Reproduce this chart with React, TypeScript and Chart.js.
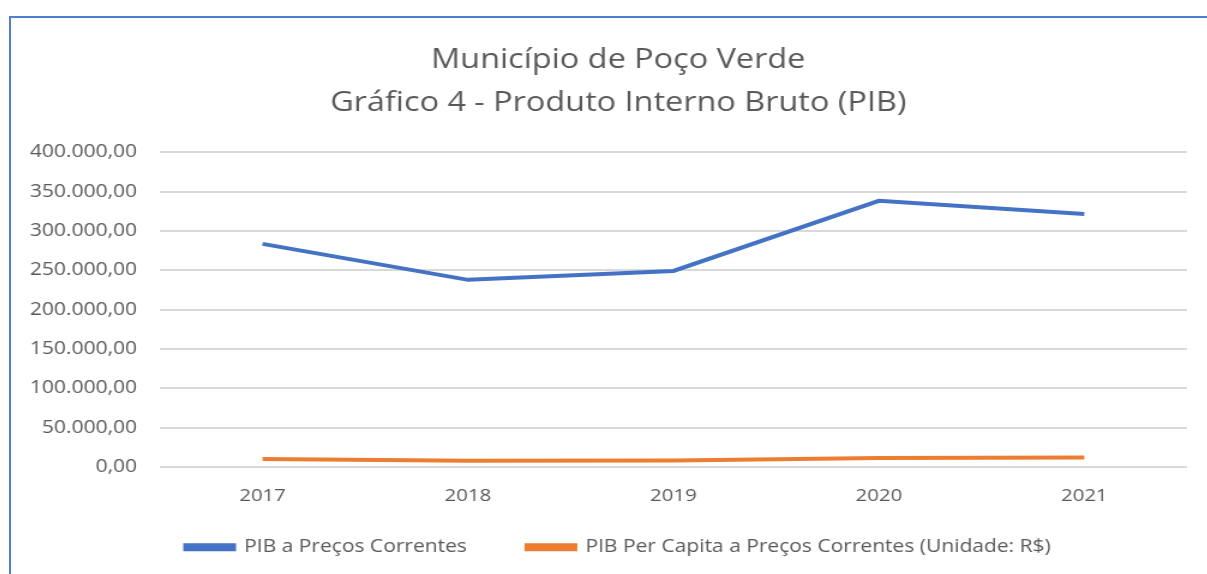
import React, { useEffect, useRef } from "react";
import { Chart, registerables } from "chart.js";

Chart.register(...registerables);

const categories = ["2017", "2018", "2019", "2020", "2021"];
const pibCorrentes = [283700, 238000, 249300, 338500, 321800];
const pibPerCapita = [10300, 8000, 8300, 11600, 12300];
const titleLines = ["Município de Poço Verde", "Gráfico 4 - Produto Interno Bruto (PIB)"];
const seriesNames = ["PIB a Preços Correntes", "PIB Per Capita a Preços Correntes (Unidade: R$)"];

const fmt = (v: number) =>
  v.toLocaleString("pt-BR", { minimumFractionDigits: 2, maximumFractionDigits: 2 });

const STRETCH = 1.2;
const CW = 997;
const CH = 585;

const shiftPlugin = {
  id: "shiftBoxes",
  afterLayout(chart: any) {
    const t = chart.titleBlock;
    if (t) {
      t.left += 16;
      t.right += 16;
    }
    const l = chart.legend;
    if (l) {
      l.left += 16;
      l.right += 16;
      l.top -= 37;
      l.bottom -= 37;
    }
  },
};

export default function App() {
  const ref = useRef<HTMLCanvasElement | null>(null);
  useEffect(() => {
    if (!ref.current) return;
    const font = "'Open Sans', sans-serif";
    const chart = new Chart(ref.current, {
      type: "line",
      data: {
        labels: categories,
        datasets: [
          {
            label: seriesNames[0],
            data: pibCorrentes,
            borderColor: "#4472C4",
            backgroundColor: "#4472C4",
            borderWidth: 4,
            pointRadius: 0,
            tension: 0,
          },
          {
            label: seriesNames[1],
            data: pibPerCapita,
            borderColor: "#ED7D31",
            backgroundColor: "#ED7D31",
            borderWidth: 4,
            pointRadius: 0,
            tension: 0,
          },
        ],
      },
      plugins: [shiftPlugin],
      options: {
        animation: false,
        responsive: false,
        maintainAspectRatio: false,
        layout: { padding: { left: 0, right: 17, top: 21, bottom: 0 } },
        plugins: {
          tooltip: { enabled: false },
          title: {
            display: true,
            text: titleLines,
            color: "#595959",
            font: { family: font, size: 27, weight: "normal", lineHeight: 1.6 },
            padding: { top: 0, bottom: 27 },
          },
          legend: {
            position: "bottom",
            labels: {
              color: "#595959",
              font: { family: font, size: 17.5 },
              boxWidth: 40,
              boxHeight: 4,
              padding: 50,
            },
          },
        },
        scales: {
          x: {
            offset: true,
            grid: { display: false, drawTicks: false },
            border: { display: false },
            ticks: { color: "#595959", font: { family: font, size: 17 }, padding: 19 },
          },
          y: {
            min: 0,
            max: 400000,
            grid: { color: "#d9d9d9", lineWidth: 2, drawTicks: false },
            border: { display: false },
            ticks: {
              stepSize: 50000,
              color: "#595959",
              font: { family: font, size: 17.5 },
              padding: 19,
              callback: (v: any) => fmt(Number(v)),
            },
            afterFit: (s: any) => {
              s.width = 124;
            },
          },
        },
      },
    });
    return () => chart.destroy();
  }, []);
  return (
    <div
      style={{
        position: "absolute",
        left: 9,
        top: 16,
        width: 1198,
        height: 558,
        borderLeft: "2px solid #4F7FD0",
        borderTop: "2px solid #4F7FD0",
        background: "#fff",
        overflow: "hidden",
      }}
    >
      <div style={{ transform: `scaleX(${STRETCH})`, transformOrigin: "0 0", width: CW, height: CH }}>
        <canvas ref={ref} width={CW} height={CH} style={{ display: "block", width: CW, height: CH }} />
      </div>
    </div>
  );
}
